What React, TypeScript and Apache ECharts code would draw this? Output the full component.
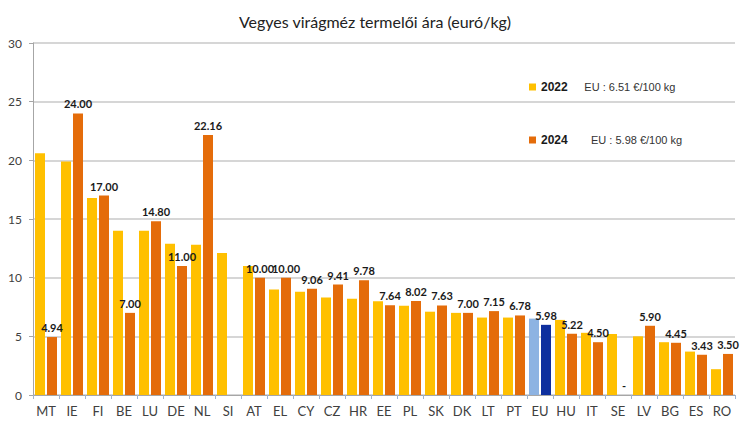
import React, { useEffect, useRef } from "react";
import * as echarts from "echarts";

const countries = [
  "MT", "IE", "FI", "BE", "LU", "DE", "NL", "SI", "AT", "EL", "CY", "CZ", "HR", "EE",
  "PL", "SK", "DK", "LT", "PT", "EU", "HU", "IT", "SE", "LV", "BG", "ES", "RO",
];

const prices2022 = [
  20.6, 19.9, 16.8, 14.0, 14.0, 12.9, 12.8, 12.1, 11.0, 9.0, 8.8, 8.3, 8.2, 8.0,
  7.6, 7.1, 7.0, 6.6, 6.6, 6.51, 6.4, 5.3, 5.2, 5.0, 4.5, 3.7, 2.2,
];

// SE has no 2024 figure (drawn as "-"), SI has none at all
const prices2024: (number | null)[] = [
  4.94, 24.0, 17.0, 7.0, 14.8, 11.0, 22.16, null, 10.0, 10.0, 9.06, 9.41, 9.78, 7.64,
  8.02, 7.63, 7.0, 7.15, 6.78, 5.98, 5.22, 4.5, null, 5.9, 4.45, 3.43, 3.5,
];

const yTicks = { min: 0, max: 30, interval: 5 };

const title = "Vegyes virágméz termelői ára (euró/kg)";
const legendNotes = { "2022": "EU : 6.51 €/100 kg", "2024": "EU : 5.98 €/100 kg" };

const YELLOW = "#FFC000";
const ORANGE = "#E46C0A";
const EU_LIGHT = "#8DB3E2";
const EU_DARK = "#0E2F9E";

export default function App() {
  const ref = useRef<HTMLDivElement>(null);

  useEffect(() => {
    if (!ref.current) return;
    const chart = echarts.init(ref.current, null, { renderer: "svg" });

    const data2022 = prices2022.map((v, i) =>
      countries[i] === "EU" ? { value: v, itemStyle: { color: EU_LIGHT } } : v
    );
    const data2024 = prices2024.map((v, i) => {
      if (countries[i] === "EU") return { value: v, itemStyle: { color: EU_DARK } };
      if (countries[i] === "SE")
        return { value: 0, label: { show: true, formatter: "-", fontWeight: "bold" } };
      if (v === null) return null;
      return v;
    });

    const legendRich = {
      y: { fontFamily: "Liberation Sans", fontWeight: "bold", fontSize: 12, color: "#1a1a1a" },
      n: { fontFamily: "Liberation Sans", fontSize: 11, color: "#333" },
    };

    chart.setOption({
      animation: false,
      backgroundColor: "#fff",
      title: {
        text: title,
        left: "center",
        top: 8,
        textStyle: { fontFamily: "Lato", fontWeight: "normal", fontSize: 16, color: "#222" },
      },
      legend: [
        {
          data: ["2022"],
          left: 524,
          top: 76,
          icon: "rect",
          itemWidth: 7,
          itemHeight: 7,
          itemGap: 4,
          formatter: (name: string) => `{y|${name}}     {n|${legendNotes["2022"]}}`,
          textStyle: { rich: legendRich },
          selectedMode: false,
        },
        {
          data: ["2024"],
          left: 524,
          top: 129,
          icon: "rect",
          itemWidth: 7,
          itemHeight: 7,
          itemGap: 4,
          formatter: (name: string) => `{y|${name}}       {n|${legendNotes["2024"]}}`,
          textStyle: { rich: legendRich },
          selectedMode: false,
        },
      ],
      grid: { left: 33, right: 15, top: 43, bottom: 27, containLabel: false },
      xAxis: {
        type: "category",
        data: countries,
        axisLine: { lineStyle: { color: "#A6A6A6", width: 1 } },
        axisTick: { show: true, length: 4, lineStyle: { color: "#9DB3D3" } },
        axisLabel: { fontFamily: "Lato", fontSize: 13, color: "#404040", margin: 9 },
      },
      yAxis: {
        type: "value",
        min: yTicks.min,
        max: yTicks.max,
        interval: yTicks.interval,
        axisLine: { show: true, lineStyle: { color: "#A6A6A6" } },
        axisTick: { show: true, length: 4, lineStyle: { color: "#A6A6A6" } },
        axisLabel: { fontFamily: "Lato", fontSize: 12, color: "#404040", margin: 11 },
        splitLine: { lineStyle: { color: "#C8C8C8", width: 1.5 } },
      },
      series: [
        {
          name: "2022",
          type: "bar",
          data: data2022,
          barWidth: 10,
          barGap: "20%",
          itemStyle: { color: YELLOW },
        },
        {
          name: "2024",
          type: "bar",
          data: data2024,
          barWidth: 10,
          itemStyle: { color: ORANGE },
          label: {
            show: true,
            position: "top",
            distance: 4,
            formatter: (p: any) => (typeof p.value === "number" ? p.value.toFixed(2) : ""),
            fontFamily: "Lato",
            fontWeight: "bold",
            fontSize: 11,
            color: "#1a1a1a",
          },
        },
      ],
    });

    return () => chart.dispose();
  }, []);

  return (
    <div
      ref={ref}
      style={{ position: "absolute", left: 0, top: 0, width: 750, height: 422 }}
    />
  );
}
